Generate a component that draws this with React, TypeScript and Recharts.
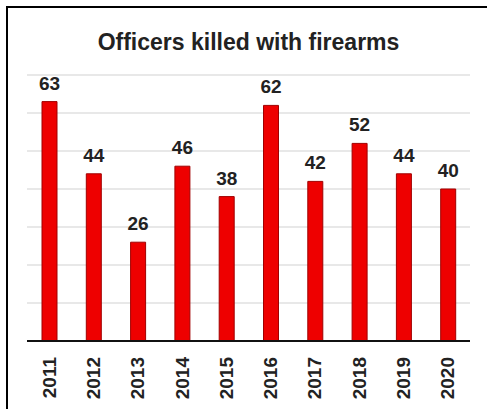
import React from 'react';
import { BarChart, Bar, XAxis, YAxis, CartesianGrid, LabelList } from 'recharts';

const years = ['2011', '2012', '2013', '2014', '2015', '2016', '2017', '2018', '2019', '2020'];
const killed = [63, 44, 26, 46, 38, 62, 42, 52, 44, 40];
const yTicks = [0, 10, 20, 30, 40, 50, 60, 70];

const data = years.map((year, i) => ({ year, killed: killed[i] }));

const FONT = '"Liberation Sans", Arial, sans-serif';

function YearTick(props: any) {
  const { x, y, payload } = props;
  const ty = y + 16;
  return (
    <text
      x={x}
      y={ty}
      transform={`rotate(-90, ${x}, ${ty})`}
      textAnchor="end"
      dominantBaseline="central"
      fontFamily={FONT}
      fontWeight={700}
      fontSize={19}
      fill="#222"
    >
      {payload.value}
    </text>
  );
}

export default function App() {
  return (
    <div
      style={{
        position: 'absolute',
        left: 0,
        top: 0,
        width: 487,
        height: 409,
        overflow: 'hidden',
        background: '#fff',
      }}
    >
      <div
        style={{
          position: 'absolute',
          left: 6,
          top: 6,
          width: 600,
          height: 600,
          border: '2px solid #000',
        }}
      />
      <div
        style={{
          position: 'absolute',
          left: 0,
          top: 29,
          width: 497,
          textAlign: 'center',
          fontFamily: FONT,
          fontWeight: 700,
          fontSize: 23,
          color: '#222',
        }}
      >
        Officers killed with firearms
      </div>
      <div style={{ position: 'absolute', left: 0, top: 0 }}>
        <BarChart
          width={487}
          height={409}
          data={data}
          margin={{ top: 75, right: 17, left: 27, bottom: 0 }}
        >
          <CartesianGrid stroke="#e0e0e0" vertical={false} strokeWidth={1.5} />
          <YAxis hide domain={[0, 70]} ticks={yTicks} />
          <XAxis
            dataKey="year"
            height={68}
            tickSize={0}
            tickMargin={0}
            tickLine={false}
            axisLine={{ stroke: '#111', strokeWidth: 2 }}
            tick={<YearTick />}
            interval={0}
          />
          <Bar
            dataKey="killed"
            fill="#ee0000"
            stroke="#a00000"
            strokeWidth={1}
            barSize={15}
            isAnimationActive={false}
          >
            <LabelList
              dataKey="killed"
              position="top"
              offset={12}
              style={{ fontFamily: FONT, fontWeight: 700, fontSize: 19, fill: '#222' }}
            />
          </Bar>
        </BarChart>
      </div>
    </div>
  );
}
